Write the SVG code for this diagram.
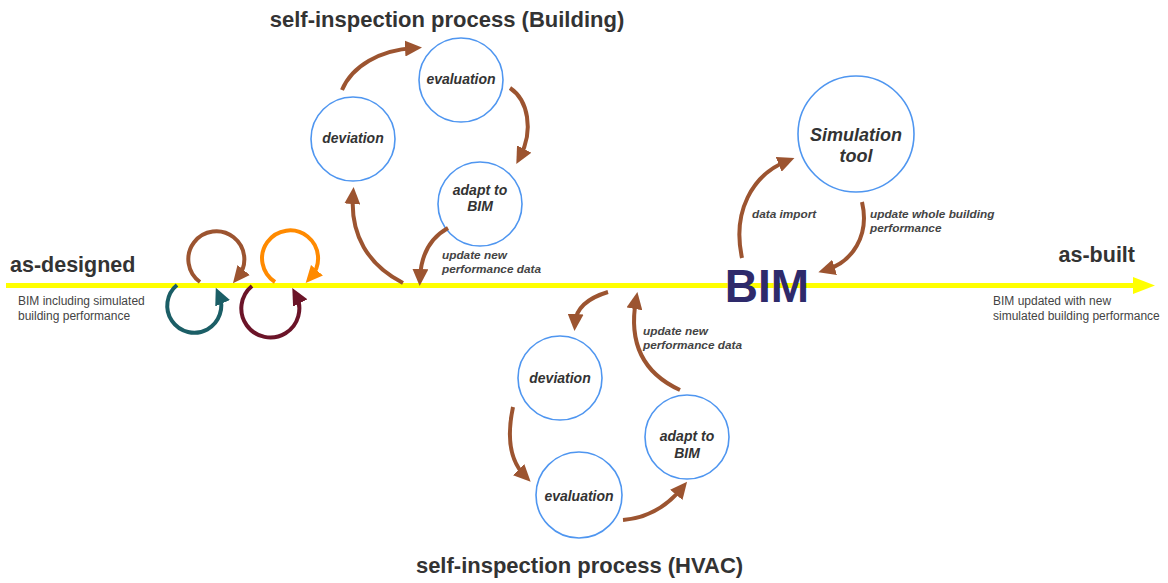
<svg xmlns="http://www.w3.org/2000/svg" width="1168" height="583" viewBox="0 0 1168 583">
<style>
.node{fill:#fff;stroke:#4f96f0;stroke-width:1.6}
.lbl{font-family:"Liberation Sans",Arial,sans-serif;font-weight:bold;font-style:italic;fill:#333;text-anchor:middle;font-size:14px}
.title{font-family:"Liberation Sans",Arial,sans-serif;font-weight:bold;fill:#333;text-anchor:middle;font-size:22px}
.small{font-family:"Liberation Sans",Arial,sans-serif;fill:#444;font-size:12px}
.elbl{font-family:"Liberation Sans",Arial,sans-serif;font-weight:bold;font-style:italic;fill:#444;font-size:11.8px}
.arr{fill:none;stroke:#9c5430;stroke-width:4;marker-end:url(#hb)}
.loop{fill:none;stroke-width:4}
</style>
<defs>
<marker id="hb" markerUnits="userSpaceOnUse" markerWidth="18" markerHeight="16" viewBox="0 0 18 16" refX="9" refY="8" orient="auto"><path d="M0,0 L17,8 L0,16 z" fill="#9c5430"/></marker>
<marker id="ho" markerUnits="userSpaceOnUse" markerWidth="18" markerHeight="16" viewBox="0 0 18 16" refX="9" refY="8" orient="auto"><path d="M0,0 L17,8 L0,16 z" fill="#ff8a00"/></marker>
<marker id="ht" markerUnits="userSpaceOnUse" markerWidth="18" markerHeight="16" viewBox="0 0 18 16" refX="9" refY="8" orient="auto"><path d="M0,0 L17,8 L0,16 z" fill="#1b5e66"/></marker>
<marker id="hm" markerUnits="userSpaceOnUse" markerWidth="18" markerHeight="16" viewBox="0 0 18 16" refX="9" refY="8" orient="auto"><path d="M0,0 L17,8 L0,16 z" fill="#6b1428"/></marker>
</defs>

<g id="timeline">
<line x1="6" y1="285.5" x2="1136" y2="285.5" stroke="#ffff00" stroke-width="5"/>
<polygon points="1133,277 1155,285.5 1133,294" fill="#ffff00"/>
</g>

<g id="titles">
<text class="title" x="447" y="27">self-inspection process (Building)</text>
<text class="title" x="579.5" y="573">self-inspection process (HVAC)</text>
</g>

<g id="as-designed">
<text x="10" y="272" font-family="Liberation Sans,Arial,sans-serif" font-weight="bold" font-size="21.5" fill="#333">as-designed</text>
<text class="small" x="18" y="305">BIM including simulated</text>
<text class="small" x="18" y="320">building performance</text>
</g>
<g id="as-built">
<text x="1135" y="262" text-anchor="end" font-family="Liberation Sans,Arial,sans-serif" font-weight="bold" font-size="21.5" fill="#333">as-built</text>
<text class="small" x="993" y="305">BIM updated with new</text>
<text class="small" x="993" y="320">simulated building performance</text>
</g>

<g id="bim">
<text x="767" y="302" text-anchor="middle" font-family="Liberation Sans,Arial,sans-serif" font-weight="bold" font-size="46" fill="#2e2a6b">BIM</text>
</g>

<g id="b-evaluation"><circle class="node" cx="461" cy="80" r="42"/><text class="lbl" x="461" y="84">evaluation</text></g>
<g id="b-deviation"><circle class="node" cx="353" cy="139" r="42"/><text class="lbl" x="353" y="143">deviation</text></g>
<g id="b-adapt"><circle class="node" cx="480" cy="204" r="42"/><text class="lbl" x="480" y="195">adapt to</text><text class="lbl" x="480" y="211">BIM</text></g>

<g id="h-deviation"><circle class="node" cx="560" cy="378" r="42"/><text class="lbl" x="560" y="383">deviation</text></g>
<g id="h-evaluation"><circle class="node" cx="579" cy="495" r="43"/><text class="lbl" x="579" y="501">evaluation</text></g>
<g id="h-adapt"><circle class="node" cx="687" cy="437" r="42"/><text class="lbl" x="687" y="441">adapt to</text><text class="lbl" x="687" y="458">BIM</text></g>

<g id="simulation-tool"><circle class="node" cx="856" cy="134" r="58"/><text class="lbl" x="856" y="141" style="font-size:18px">Simulation</text><text class="lbl" x="856" y="162" style="font-size:18px">tool</text></g>

<g id="connectors">
<path class="arr" d="M342,90 C352,66 380,50 414,48"/>
<path class="arr" d="M510,88 C528,100 534,130 520,157"/>
<path class="arr" d="M448,228 C430,238 421,255 420,278"/>
<path class="arr" d="M403,283 C368,265 350,235 353,195"/>

<path class="arr" d="M608,292 C588,298 576,308 575,323"/>
<path class="arr" d="M513,407 C506,440 511,462 525,476"/>
<path class="arr" d="M623,520 C648,518 668,505 682,488"/>
<path class="arr" d="M680,390 C645,374 628,345 636,300"/>

<path class="arr" d="M742,258 C732,212 752,175 787,161"/>
<path class="arr" d="M862,202 C870,236 852,262 826,270"/>

<path class="loop" stroke="#9c5430" marker-end="url(#hb)" d="M200,282 A28,28 0 1 1 238,277"/>
<path class="loop" stroke="#ff8a00" marker-end="url(#ho)" d="M275,282 A28,28 0 1 1 311,277"/>
<path class="loop" stroke="#1b5e66" marker-end="url(#ht)" d="M177,285 A27,27 0 1 0 219,295"/>
<path class="loop" stroke="#6b1428" marker-end="url(#hm)" d="M252,286 A29,29 0 1 0 296,295"/>

<text class="elbl" x="442" y="259">update new</text>
<text class="elbl" x="442" y="273">performance data</text>
<text class="elbl" x="643" y="335">update new</text>
<text class="elbl" x="643" y="349">performance data</text>
<text class="elbl" x="752" y="218">data import</text>
<text class="elbl" x="870" y="218">update whole building</text>
<text class="elbl" x="870" y="232">performance</text>
</g>
</svg>
